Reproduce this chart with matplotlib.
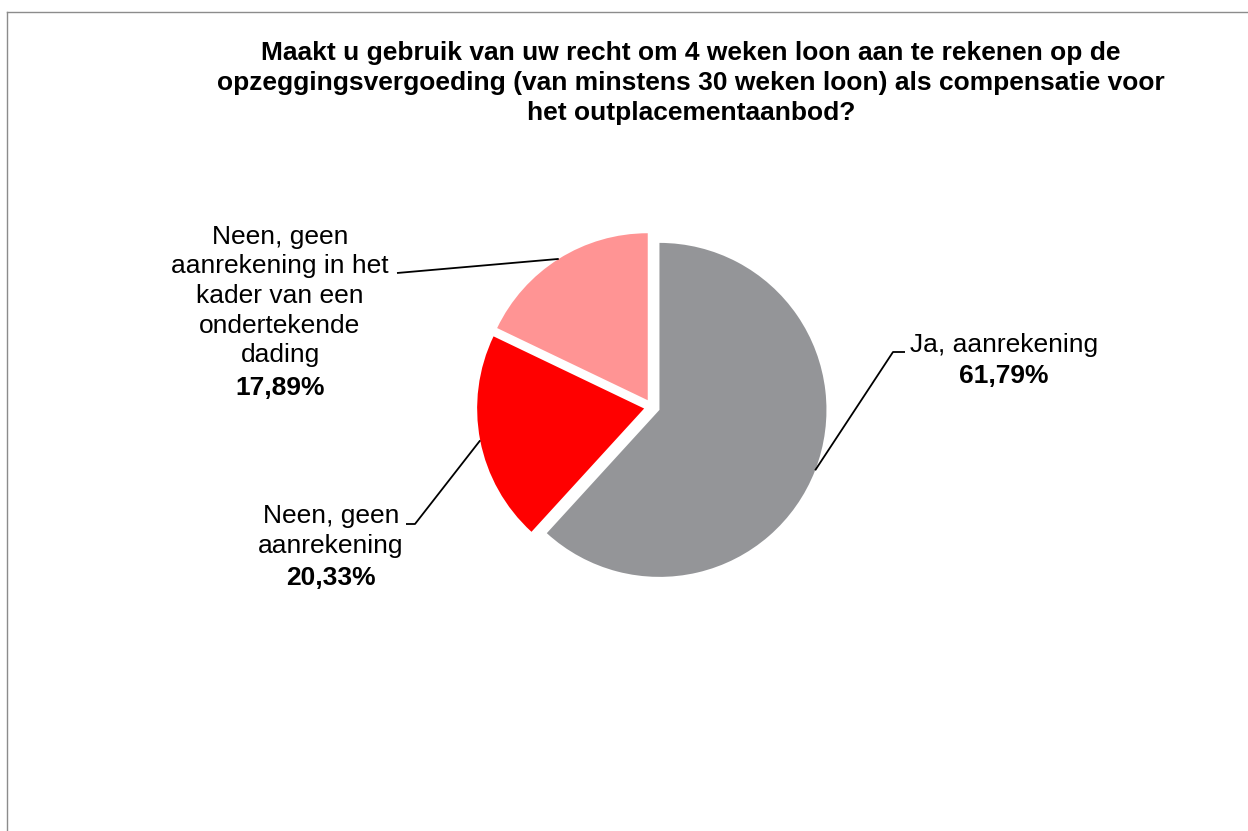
import numpy as np
import matplotlib.pyplot as plt
from matplotlib.lines import Line2D

plt.rcParams['font.family'] = ['Liberation Sans', 'DejaVu Sans']

title = ('Maakt u gebruik van uw recht om 4 weken loon aan te rekenen op de\n'
         'opzeggingsvergoeding (van minstens 30 weken loon) als compensatie voor\n'
         'het outplacementaanbod?')
labels = ['Ja, aanrekening',
          'Neen, geen\naanrekening',
          'Neen, geen\naanrekening in het\nkader van een\nondertekende\ndading']
values = [61.79, 20.33, 17.89]
colors = ['#949598', '#ff0000', '#ff9494']

W, H = 1248, 831
fig = plt.figure(figsize=(W / 100, H / 100), dpi=100)
ax = fig.add_axes([0, 0, 1, 1])


def Y(py):
    # pixel row (from top) -> data y
    return H - py


# explode is in data units (pixels here)
wedges, _ = ax.pie(values, colors=colors, startangle=90, counterclock=False,
                   explode=[8] * 3, radius=167, center=(652, Y(407)))
ax.set_xlim(0, W)
ax.set_ylim(0, H)
ax.axis('off')

# label layout: (name centre x, name centre y, pct y, elbow point, end point)
layout = [
    (1004, 345, 376, (893, 352), (905, 352)),
    (331, 531, 578, (415, 524), (406, 524)),
    (280, 296, 388, (397, 273), (397, 273)),
]

for w, lab, v, (tx, ty, py, elbow, end) in zip(wedges, labels, values, layout):
    ang = np.deg2rad((w.theta1 + w.theta2) / 2)
    cx, cy = w.center
    sx, sy = cx + w.r * np.cos(ang), cy + w.r * np.sin(ang)
    ax.plot([sx, elbow[0], end[0]], [sy, Y(elbow[1]), Y(end[1])],
            color='black', lw=1.3, solid_capstyle='butt')
    ax.text(tx, Y(ty), lab, ha='center', va='center', fontsize=19,
            multialignment='center', linespacing=1.3)
    ax.text(tx, Y(py), f'{v:.2f}%'.replace('.', ','), ha='center',
            va='center', fontsize=19, fontweight='bold')

ax.text(691, Y(83), title, ha='center', va='center', fontsize=19,
        fontweight='bold', linespacing=1.33)

# chart area border (top and left visible)
fig.add_artist(Line2D([7 / W, 1], [1 - 12 / H, 1 - 12 / H], color='#8c8c8c', lw=1))
fig.add_artist(Line2D([7 / W, 7 / W], [0, 1 - 12 / H], color='#8c8c8c', lw=1))

fig.savefig('out.png', dpi=100)
